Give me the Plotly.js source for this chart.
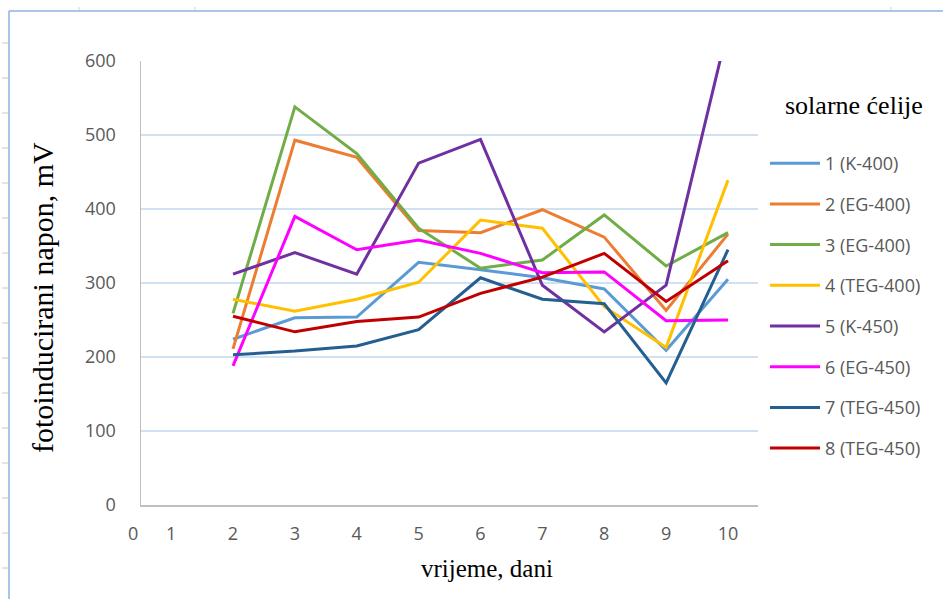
<!DOCTYPE html>
<html>
<head>
<meta charset="utf-8">
<script src="https://cdn.plot.ly/plotly-3.0.1.min.js"></script>
<style>html,body{margin:0;padding:0;background:#fff;}#chart{width:943px;height:599px;}</style>
</head>
<body>
<div id="chart"></div>
<script>
// ---- data ----
var days = [2, 3, 4, 5, 6, 7, 8, 9, 10];
var seriesNames = ['1 (K-400)', '2 (EG-400)', '3 (EG-400)', '4 (TEG-400)', '5 (K-450)', '6 (EG-450)', '7 (TEG-450)', '8 (TEG-450)'];
var s1 = [224, 253, 254, 328, 318, 307, 292, 209, 305];
var s2 = [211, 493, 470, 371, 368, 399, 362, 263, 366];
var s3 = [259, 538, 475, 374, 320, 331, 392, 323, 368];
var s4 = [278, 262, 278, 301, 385, 374, 268, 213, 439];
var s5 = [312, 341, 312, 462, 494, 297, 234, 297, 645];
var s6 = [188, 390, 345, 358, 340, 314, 315, 249, 250];
var s7 = [203, 208, 215, 237, 307, 278, 272, 165, 345];
var s8 = [255, 234, 248, 254, 286, 308, 340, 275, 330];
var xTickVals = [1, 2, 3, 4, 5, 6, 7, 8, 9, 10];
var yTickVals = [0, 100, 200, 300, 400, 500, 600];
var xTitle = 'vrijeme, dani';
var yTitle = 'fotoinducirani napon, mV';
var legendTitle = 'solarne ćelije';

var colors = ['#5B9BD5', '#ED7D31', '#70AD47', '#FFC000', '#7030A0', '#FF00FF', '#255E91', '#C00000'];
var allSeries = [s1, s2, s3, s4, s5, s6, s7, s8];

var traces = allSeries.map(function (ys, i) {
  return {
    x: days, y: ys, type: 'scatter', mode: 'lines', name: seriesNames[i],
    legendgroup: 'g' + i,
    line: {color: colors[i], width: 3}
  };
});

// pixel -> paper helpers for decorations
var L = 141, R = 185, T = 61, B = 94, W = 943, H = 599;
var pw = W - L - R, ph = H - T - B;
function px(x) { return (x - L) / pw; }
function py(y) { return (H - B - y) / ph; }

var shapes = [
  {type: 'line', xref: 'paper', yref: 'paper', x0: px(9), x1: px(9), y0: py(11), y1: py(599), line: {color: '#8DB3E2', width: 1.5}},
  {type: 'line', xref: 'paper', yref: 'paper', x0: px(9), x1: px(943), y0: py(11), y1: py(11), line: {color: '#8DB3E2', width: 1.5}}
];
for (var k = 0; k < 16; k++) {
  var yy = 43 + k * 35;
  if (yy > 595) break;
  shapes.push({type: 'line', xref: 'paper', yref: 'paper', x0: px(2), x1: px(8), y0: py(yy), y1: py(yy), line: {color: '#c8c8c8', width: 1}});
}
[79, 195, 891].forEach(function (xx) {
  shapes.push({type: 'line', xref: 'paper', yref: 'paper', x0: px(xx), x1: px(xx), y0: py(7), y1: py(10), line: {color: '#d0d0d0', width: 1}});
});

var tickFont = {family: 'Open Sans, Liberation Sans, sans-serif', size: 18, color: '#595959'};
var serif = 'Liberation Serif, serif';

var layout = {
  width: W, height: H,
  margin: {l: L, r: R, t: T, b: B},
  paper_bgcolor: '#ffffff', plot_bgcolor: '#ffffff',
  showlegend: true,
  xaxis: {
    range: [0.513, 10.485], tickvals: xTickVals, ticks: '', showgrid: false, zeroline: false,
    showline: true, linecolor: '#BFBFBF', linewidth: 1.5, tickfont: tickFont, ticklabelstandoff: 12
  },
  yaxis: {
    range: [0, 600], tickvals: yTickVals, ticks: '', showgrid: true, gridcolor: '#D0E1F2', gridwidth: 1.5,
    zeroline: false, showline: true, linecolor: '#BFBFBF', linewidth: 1.5, tickfont: tickFont, ticklabelstandoff: 20
  },
  legend: {
    x: px(765), y: py(145), xanchor: 'left', yanchor: 'top',
    font: {family: 'Open Sans, Liberation Sans, sans-serif', size: 18, color: '#595959'},
    traceorder: 'grouped', tracegroupgap: 14.3, itemwidth: 50, bgcolor: 'rgba(0,0,0,0)'
  },
  annotations: [
    {text: legendTitle, xref: 'paper', yref: 'paper', x: px(854), y: py(106), xanchor: 'center', yanchor: 'middle',
     showarrow: false, font: {family: serif, size: 26, color: '#000'}},
    {text: xTitle, xref: 'paper', yref: 'paper', x: px(487), y: py(568), xanchor: 'center', yanchor: 'middle',
     showarrow: false, font: {family: serif, size: 25, color: '#000'}},
    {text: yTitle, xref: 'paper', yref: 'paper', x: px(42), y: py(297), xanchor: 'center', yanchor: 'middle',
     textangle: -90, showarrow: false, font: {family: serif, size: 30, color: '#000'}},
    {text: '0', xref: 'paper', yref: 'paper', x: px(133), y: py(533), xanchor: 'center', yanchor: 'middle',
     showarrow: false, font: tickFont}
  ],
  shapes: shapes
};

Plotly.newPlot('chart', traces, layout, {displayModeBar: false, staticPlot: true});
</script>
</body>
</html>
